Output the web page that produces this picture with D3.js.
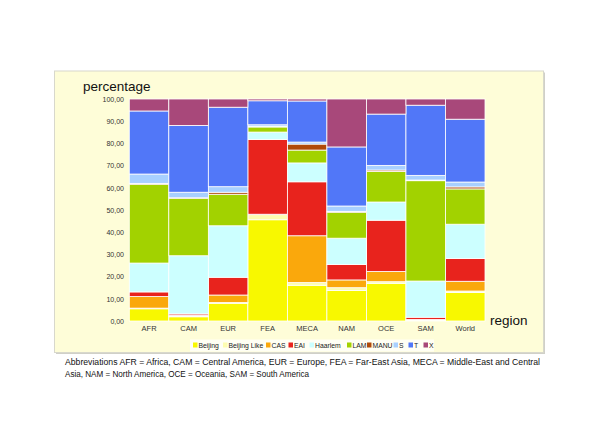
<!DOCTYPE html>
<html><head><meta charset="utf-8">
<script src="https://cdn.jsdelivr.net/npm/d3@7"></script>
<style>html,body{margin:0;padding:0;background:#fff;}svg{display:block;}</style>
</head><body>
<script>
const regions = ["AFR","CAM","EUR","FEA","MECA","NAM","OCE","SAM","World"];
const seriesNames = ["Beijing","Beijing Like","CAS","EAI","Haarlem","LAM","MANU","S","T","X"];
const seriesColors = ["#F8F800","#FDFDB0","#FAA80C","#E8231D","#CCFFFF","#A2D200","#B04A0A","#A8D0FF","#5177F8","#A8487A"];
const beijing     = [5.5, 1.9, 8.0, 45.6, 16.1, 13.8, 17.0, 0.3, 12.8];
const beijingLike = [0.3, 0.4, 0.3, 2.3, 1.2, 1.2, 0.7, 0.2, 0.7];
const cas         = [5.2, 0.3, 3.4, 0.2, 21.1, 3.5, 4.6, 0.2, 4.4];
const eai         = [2.1, 0.6, 8.0, 33.7, 24.3, 7.0, 23.1, 1.0, 10.3];
const haarlem     = [13.0, 26.2, 23.2, 3.3, 8.5, 11.8, 8.2, 16.3, 15.4];
const lam         = [35.5, 25.9, 14.2, 2.3, 5.8, 11.7, 13.8, 45.2, 15.9];
const manu        = [0.4, 0.2, 0.9, 0.3, 2.7, 0.4, 0.6, 0.3, 0.9];
const sVals       = [4.2, 2.5, 2.5, 0.7, 0.9, 2.4, 2.1, 2.1, 2.2];
const tVals       = [28.4, 30.1, 35.8, 10.8, 18.5, 26.6, 23.1, 31.6, 28.3];
const xVals       = [5.4, 11.9, 3.7, 0.8, 0.9, 21.6, 6.8, 2.8, 9.1];
const yTicks = [0,10,20,30,40,50,60,70,80,90,100];
const footLines = [
  "Abbreviations AFR = Africa, CAM = Central America, EUR = Europe, FEA = Far-East Asia, MECA = Middle-East and Central",
  "Asia, NAM = North America, OCE = Oceania, SAM = South America"
];

const seriesVals = [beijing, beijingLike, cas, eai, haarlem, lam, manu, sVals, tVals, xVals];
const table = regions.map((r,i)=>{const o={region:r}; seriesNames.forEach((s,j)=>o[s]=seriesVals[j][i]); return o;});

const W=600,H=424;
const svg=d3.select("body").append("svg").attr("width",W).attr("height",H);
const font="'Liberation Sans', Arial, sans-serif";

// panel
svg.append("rect").attr("x",56).attr("y",72.5).attr("width",489).attr("height",281.5).attr("fill","#d0d0c8");
svg.append("rect").attr("x",54.5).attr("y",71).attr("width",489).attr("height",281.5).attr("fill","#FEFDD8").attr("stroke","#d8d8cc").attr("stroke-width",1);

const x=d3.scaleBand().domain(regions).range([129.3,485]).padding(0);
const y=d3.scaleLinear().domain([0,100]).range([321,99]);

const stack=d3.stack().keys(seriesNames)(table);
const color=d3.scaleOrdinal().domain(seriesNames).range(seriesColors);

svg.append("g").selectAll("g").data(stack).join("g").attr("fill",d=>color(d.key))
  .selectAll("rect").data(d=>d).join("rect")
  .attr("x",d=>x(d.data.region)).attr("width",x.bandwidth())
  .attr("y",d=>y(d[1])).attr("height",d=>Math.max(0,y(d[0])-y(d[1])))
  .attr("stroke","#ffffff").attr("stroke-width",0.8);

// y axis
const yAxis=d3.axisLeft(y).tickValues(yTicks).tickSize(0).tickPadding(0)
  .tickFormat(v=>d3.format(".2f")(v).replace(".",","));
const gy=svg.append("g").attr("transform","translate(124,0)").call(yAxis);
gy.select(".domain").remove();
gy.selectAll("text").attr("font-family",font).attr("font-size",7).attr("fill","#333");

// x axis
const xAxis=d3.axisBottom(x).tickSize(0).tickPadding(0);
const gx=svg.append("g").attr("transform","translate(0,326)").call(xAxis);
gx.select(".domain").remove();
gx.selectAll("text").attr("font-family",font).attr("font-size",7.5).attr("fill","#333");

svg.append("text").attr("x",83).attr("y",91).attr("font-family",font).attr("font-size",13.5).attr("fill","#111").text("percentage");
svg.append("text").attr("x",490).attr("y",325).attr("font-family",font).attr("font-size",13.5).attr("fill","#111").text("region");

// legend
const legendX=[193,223,266,288.5,309.5,347,367,393.5,408.5,423.5];
svg.append("rect").attr("x",190).attr("y",339.5).attr("width",244).attr("height",12).attr("fill","#fffff4");
const lg=svg.append("g");
seriesNames.forEach((s,i)=>{
  lg.append("rect").attr("x",legendX[i]).attr("y",342.5).attr("width",4.5).attr("height",5).attr("fill",color(s));
  lg.append("text").attr("x",legendX[i]+5.5).attr("y",348.3).attr("font-family",font).attr("font-size",6.8).attr("fill","#222").text(s);
});

// footnote
svg.append("text").attr("x",65).attr("y",365).attr("font-family",font).attr("font-size",9.2).attr("fill","#111")
  .attr("textLength",475).attr("lengthAdjust","spacingAndGlyphs").text(footLines[0]);
svg.append("text").attr("x",65).attr("y",377).attr("font-family",font).attr("font-size",9.2).attr("fill","#111")
  .attr("textLength",244).attr("lengthAdjust","spacingAndGlyphs").text(footLines[1]);
</script>
</body></html>
